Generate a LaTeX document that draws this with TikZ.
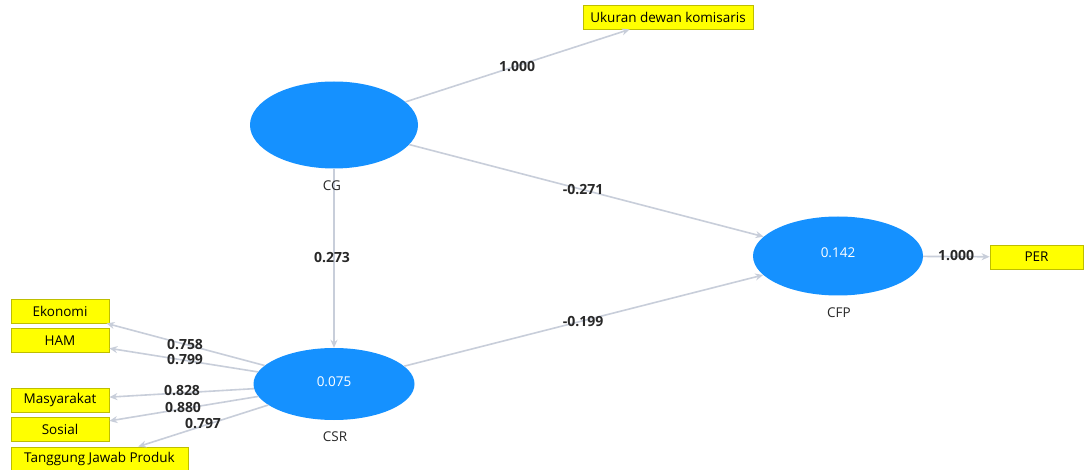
\documentclass[tikz,border=0pt]{standalone}
\usepackage{fontspec}
\setmainfont{Open Sans}
\usetikzlibrary{arrows.meta,shapes.geometric}
\definecolor{lvblue}{RGB}{21,145,255}
\definecolor{edgec}{RGB}{200,206,218}
\definecolor{boxy}{RGB}{255,255,0}
\definecolor{boxb}{RGB}{190,190,0}
\definecolor{txt}{RGB}{40,40,40}
\tikzset{
  lv/.style={ellipse, fill=lvblue, draw=none, inner sep=0pt, text=white, font=\fontsize{13.5}{15}\selectfont},
  ind/.style={rectangle, fill=boxy, draw=boxb, line width=0.8pt, inner sep=0pt, text=black, font=\fontsize{13.5}{15}\selectfont},
  lvname/.style={inner sep=1pt, text=txt, font=\fontsize{13.5}{15}\selectfont},
  coef/.style={inner sep=0.5pt, text=txt, font=\bfseries\fontsize{14}{16}\selectfont},
  conn/.style={draw=edgec, line width=1.6pt, -{Stealth[length=8pt,width=7pt]}},
}
\begin{document}
\begin{tikzpicture}[x=1pt,y=-1pt]
\useasboundingbox (0,0) rectangle (1084,470);
\fill[white] (0,0) rectangle (1084,470);
% latent variables
\node[lv, minimum width=168pt, minimum height=87pt] (CG) at (334,125) {};
\node[lv, minimum width=161pt, minimum height=72pt] (CSR) at (334,384) {\raisebox{5pt}{0.075}};
\node[lv, minimum width=170pt, minimum height=79pt] (CFP) at (838,256) {\raisebox{6pt}{0.142}};
% indicators
\node[ind, minimum width=170pt, minimum height=24pt] (uk) at (668,17) {Ukuran dewan komisaris};
\node[ind, minimum width=93pt, minimum height=24pt] (per) at (1036.5,257) {PER};
\node[ind, minimum width=98pt, minimum height=24pt] (eko) at (60,311) {Ekonomi};
\node[ind, minimum width=98pt, minimum height=24pt] (ham) at (60,340.5) {HAM};
\node[ind, minimum width=98pt, minimum height=24pt] (mas) at (60,400) {Masyarakat};
\node[ind, minimum width=98pt, minimum height=24pt] (sos) at (60,429) {Sosial};
\node[ind, minimum width=177pt, minimum height=24pt] (tjp) at (99.5,459) {Tanggung Jawab Produk};
% edges
\draw[conn] (CG) -- (uk);
\draw[conn] (CG) -- (CFP);
\draw[conn] (CG) -- (CSR);
\draw[conn] (CSR) -- (CFP);
\draw[conn] (CFP) -- (per);
\draw[conn] (CSR) -- (eko);
\draw[conn] (CSR) -- (ham);
\draw[conn] (CSR) -- (mas);
\draw[conn] (CSR) -- (sos);
\draw[conn] (CSR) -- (tjp);
% names
\node[lvname] (CGn) at (332,186) {CG};
\node[lvname] (CSRn) at (335,437) {CSR};
\node[lvname] (CFPn) at (839,313) {CFP};
% coefficients
\node[coef] (c1) at (517,67) {1.000};
\node[coef] (c2) at (583,190) {-0.271};
\node[coef] (c3) at (332,258) {0.273};
\node[coef] (c4) at (583,322) {-0.199};
\node[coef] (c5) at (956,256) {1.000};
\node[coef] (c6) at (185,345) {0.758};
\node[coef] (c7) at (185,360) {0.799};
\node[coef] (c8) at (182,391) {0.828};
\node[coef] (c9) at (183,408) {0.880};
\node[coef] (c10) at (203,424) {0.797};
\end{tikzpicture}
\end{document}
